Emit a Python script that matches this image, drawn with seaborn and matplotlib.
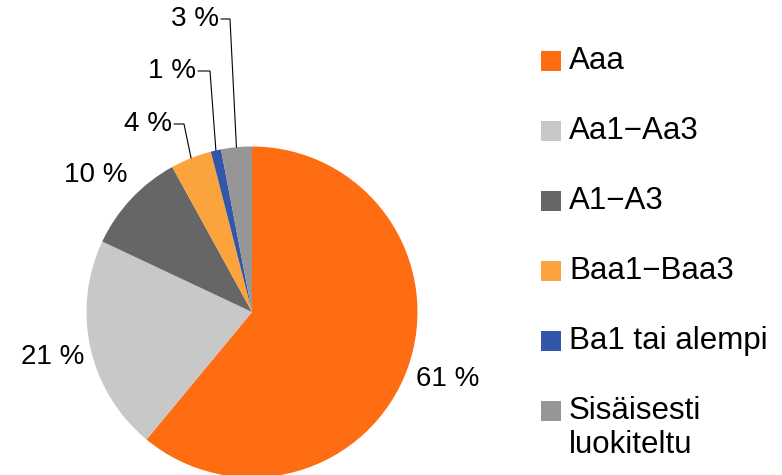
import matplotlib
matplotlib.use("Agg")
import matplotlib.pyplot as plt
from matplotlib.patches import Rectangle
import numpy as np
import seaborn as sns

# rating categories and their share of the portfolio (%)
categories = ["Aaa", "Aa1\u2212Aa3", "A1\u2212A3", "Baa1\u2212Baa3", "Ba1 tai alempi",
              "Sisäisesti\nluokiteltu"]
shares = [61, 21, 10, 4, 1, 3]
slice_colors = ["#FF6D12", "#C8C8C8", "#666666", "#FBA33C", "#3356A8", "#969696"]
pct_labels = [f"{v} %" for v in shares]

sns.set_style("white")
plt.rcParams["font.family"] = ["Liberation Sans", "DejaVu Sans"]

W, H = 782, 475
fig = plt.figure(figsize=(W / 100, H / 100), dpi=100)
ax = fig.add_axes([0, 0, 1, 1])

cx, cy, r = 252, H - 312, 165.5
palette = sns.color_palette(slice_colors)
wedges, _ = ax.pie(shares, colors=palette, startangle=90, counterclock=False,
                   center=(cx, cy), radius=r, wedgeprops=dict(linewidth=0))
ax.set_xlim(0, W)
ax.set_ylim(0, H)
ax.set_aspect("equal")
ax.axis("off")

# label placement in pixel coords from the top: (x, y, ha, elbow x or None)
label_pos = [(448, 379, "center", None),
             (53, 357, "center", None),
             (96, 175, "center", None),
             (172, 124, "right", 184),
             (196, 71, "right", 210),
             (219, 19, "right", 230)]

for w, txt, (lx, ly, ha, ex) in zip(wedges, pct_labels, label_pos):
    ax.text(lx, H - ly, txt, ha=ha, va="center", fontsize=20, color="black")
    if ex is not None:
        mid = np.deg2rad((w.theta1 + w.theta2) / 2)
        px, py = cx + r * np.cos(mid), cy + r * np.sin(mid)
        ax.plot([lx + 2, ex, px], [H - ly, H - ly, py], color="black", lw=0.8)

# legend drawn by hand so the marker sits on the first line of a wrapped label
row0, pitch, line_h = 61, 70, 34
for i, (name, c) in enumerate(zip(categories, palette)):
    yc = row0 + pitch * i
    ax.add_patch(Rectangle((541, H - yc - 10), 20, 20, facecolor=c, edgecolor="none"))
    for k, part in enumerate(name.split("\n")):
        ax.text(569, H - yc - line_h * k, part, ha="left", va="center",
                fontsize=22.5, color="black")

fig.savefig("out.png", dpi=100)
